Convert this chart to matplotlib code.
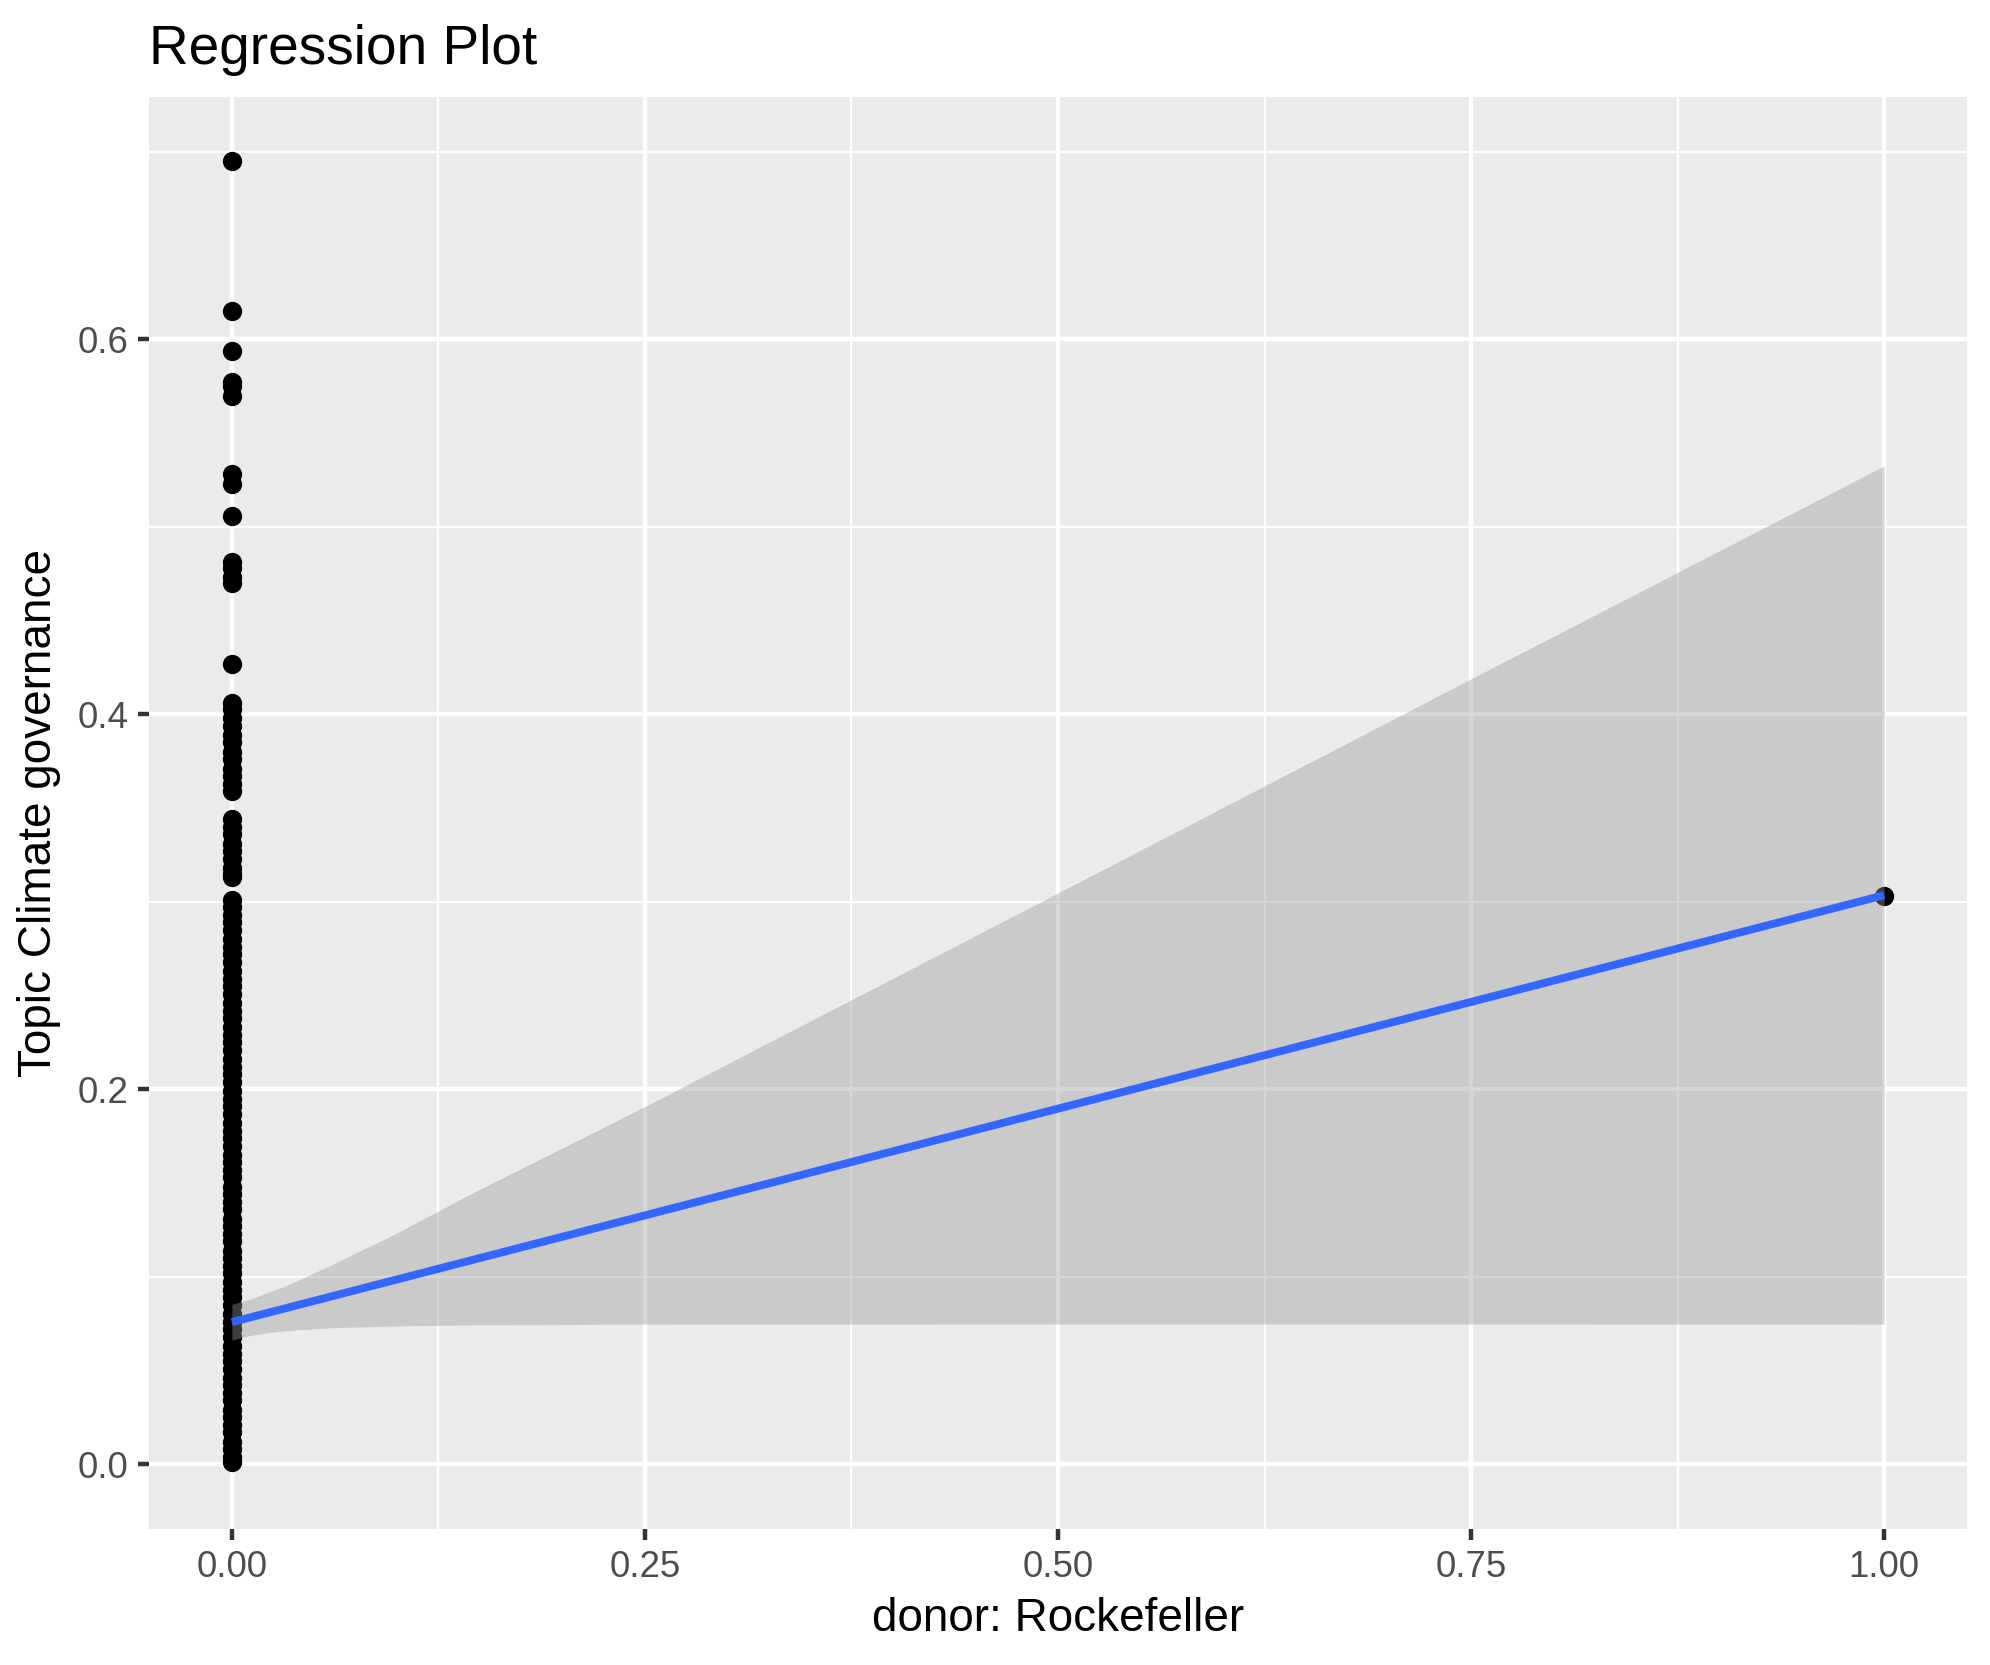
import numpy as np
import matplotlib
matplotlib.use("Agg")
import matplotlib.pyplot as plt

plt.rcParams['font.family'] = ['Liberation Sans', 'DejaVu Sans']

# ---- data ----
# donor: Rockefeller = 0, sparse upper values
top_vals = [0.695, 0.615, 0.594, 0.577, 0.575, 0.570, 0.528, 0.523, 0.506,
            0.481, 0.478, 0.473, 0.470, 0.427]
# middle clusters
mid_vals = [0.406, 0.403, 0.398, 0.394, 0.389, 0.385, 0.380, 0.376, 0.371,
            0.367, 0.363, 0.359,
            0.344, 0.340, 0.336, 0.331, 0.327, 0.323, 0.318, 0.315, 0.313]
# dense part of the column
low_vals = [0.301, 0.297, 0.293, 0.289, 0.285, 0.280, 0.276, 0.272, 0.268,
            0.263, 0.259, 0.255, 0.251, 0.246, 0.242, 0.238, 0.233, 0.229,
            0.225, 0.221, 0.216, 0.212, 0.208, 0.204, 0.199, 0.195, 0.191,
            0.187, 0.182, 0.178, 0.174, 0.170, 0.165, 0.161, 0.157, 0.153,
            0.148, 0.144, 0.140, 0.136, 0.131, 0.127, 0.123, 0.119, 0.114,
            0.110, 0.106, 0.102, 0.097, 0.093, 0.089, 0.085, 0.080, 0.076,
            0.072, 0.068, 0.063, 0.059, 0.055, 0.051, 0.046, 0.042, 0.038,
            0.034, 0.029, 0.025, 0.021, 0.017, 0.012, 0.008, 0.004, 0.001]
# donor = 1
one_vals = [0.303]

# fitted line and confidence band
fit_x = [0.0, 1.0]
fit_y = [0.0758, 0.3035]
band_x = [0.0, 0.01, 0.02, 0.03, 0.04, 0.06, 0.10, 0.15, 0.25, 0.50, 0.75, 1.00]
band_lo = [0.0662, 0.0685, 0.0700, 0.0710, 0.0717, 0.0728, 0.0738, 0.0743,
           0.0747, 0.0748, 0.0748, 0.0747]
band_hi = [0.0853, 0.0878, 0.0910, 0.0943, 0.0981, 0.1062, 0.1234, 0.1467,
           0.1908, 0.3047, 0.4189, 0.5325]

zero_vals = top_vals + mid_vals + low_vals

fig = plt.figure(figsize=(1990 / 300, 1665 / 300), dpi=300)
ax = fig.add_axes([0.0750, 0.0815, 0.9883 - 0.0750, 0.9417 - 0.0815])
ax.set_facecolor('#EBEBEB')

ax.scatter(np.zeros(len(zero_vals)), zero_vals, s=21.5, color='black',
           linewidths=0, zorder=2)
ax.scatter(np.ones(len(one_vals)), one_vals, s=21.5, color='black',
           linewidths=0, zorder=2)
ax.fill_between(band_x, band_lo, band_hi, color='#999999', alpha=0.4,
                linewidth=0, zorder=3)
ax.plot(fit_x, fit_y, color='#3366FF', linewidth=1.9, zorder=4,
        solid_capstyle='butt')

ax.set_xlim(-0.05, 1.05)
ax.set_ylim(-0.0347, 0.7292)

ax.set_xticks([0, 0.25, 0.5, 0.75, 1.0])
ax.set_xticklabels(['0.00', '0.25', '0.50', '0.75', '1.00'])
ax.set_yticks([0, 0.2, 0.4, 0.6])
ax.set_yticklabels(['0.0', '0.2', '0.4', '0.6'])
ax.set_xticks([0.125, 0.375, 0.625, 0.875], minor=True)
ax.set_yticks([0.1, 0.3, 0.5, 0.7], minor=True)

ax.grid(True, which='major', color='white', linewidth=1.07, zorder=0)
ax.grid(True, which='minor', color='white', linewidth=0.53, zorder=0)
ax.set_axisbelow(True)
for s in ax.spines.values():
    s.set_visible(False)

ax.tick_params(which='major', length=2.75, width=1.07, color='#333333',
               labelcolor='#4D4D4D', labelsize=8.8, pad=2.2)
ax.tick_params(which='minor', length=0)

ax.set_xlabel('donor: Rockefeller', fontsize=11, labelpad=3)
ax.set_ylabel('Topic Climate governance', fontsize=11, labelpad=4)
ax.set_title('Regression Plot', fontsize=13.2, loc='left', pad=8)

fig.savefig('out.png', dpi=300)
